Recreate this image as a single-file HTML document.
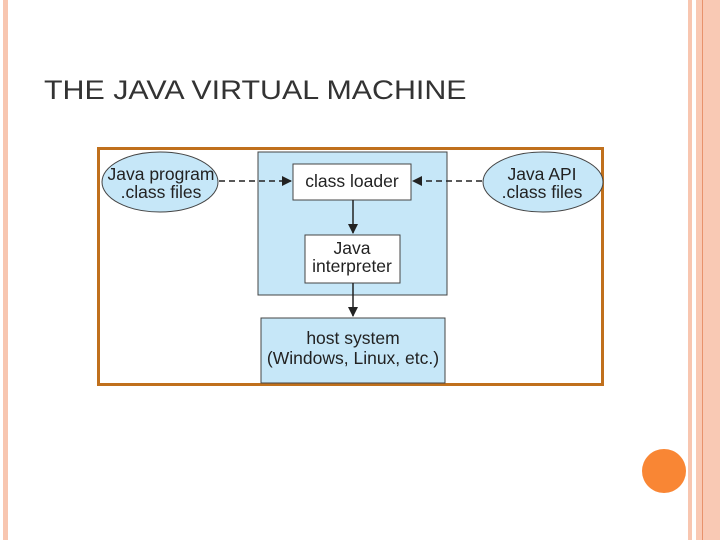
<!DOCTYPE html>
<html><head><style>
body{margin:0;width:720px;height:540px;background:#fff;position:relative;overflow:hidden;font-family:"Liberation Sans",sans-serif}
.s{position:absolute;top:0;height:540px}
</style></head><body>
<div class="s" style="left:3px;width:5px;background:#f8c6b0"></div>
<div class="s" style="left:688px;width:4px;background:#f8c6b0"></div>
<div class="s" style="left:696px;width:24px;background:#f9c9b4"></div>
<div class="s" style="left:702px;width:1px;background:#e8926c"></div>
<div style="position:absolute;left:642px;top:449px;width:44px;height:44px;border-radius:50%;background:#f98634"></div>
<div style="position:absolute;left:44px;top:75px;font-size:27px;color:#333;transform:scaleX(1.125);transform-origin:0 0;white-space:nowrap">THE JAVA VIRTUAL MACHINE</div>
<svg style="position:absolute;left:0;top:0" width="720" height="540" font-family="Liberation Sans, sans-serif" font-size="17.5" fill="#222">
<defs><marker id="a" markerWidth="10" markerHeight="10" refX="9" refY="5" orient="auto" markerUnits="userSpaceOnUse"><path d="M0,0 L10,5 L0,10 z" fill="#222"/></marker></defs>
<rect x="98.5" y="148.5" width="504" height="236" fill="#fff" stroke="#c0701c" stroke-width="3"/>
<rect x="258" y="152" width="189" height="143" fill="#c6e7f8" stroke="#444" stroke-width="1"/>
<rect x="261" y="318" width="184" height="65" fill="#c6e7f8" stroke="#444" stroke-width="1"/>
<rect x="293" y="164" width="118" height="36" fill="#fff" stroke="#444"/>
<rect x="305" y="235" width="95" height="48" fill="#fff" stroke="#444"/>
<ellipse cx="160" cy="182" rx="58" ry="30" fill="#c6e7f8" stroke="#444"/>
<ellipse cx="543" cy="182" rx="60" ry="30" fill="#c6e7f8" stroke="#444"/>
<line x1="219" y1="181" x2="291" y2="181" stroke="#222" stroke-width="1.5" stroke-dasharray="6,4" marker-end="url(#a)"/>
<line x1="482" y1="181" x2="413" y2="181" stroke="#222" stroke-width="1.5" stroke-dasharray="6,4" marker-end="url(#a)"/>
<line x1="353" y1="200" x2="353" y2="233" stroke="#222" stroke-width="1.5" marker-end="url(#a)"/>
<line x1="353" y1="283" x2="353" y2="316" stroke="#222" stroke-width="1.5" marker-end="url(#a)"/>
<text x="161" y="180" text-anchor="middle">Java program</text>
<text x="161" y="198" text-anchor="middle">.class files</text>
<text x="542" y="180" text-anchor="middle">Java API</text>
<text x="542" y="198" text-anchor="middle">.class files</text>
<text x="352" y="187" text-anchor="middle">class loader</text>
<text x="352" y="254" text-anchor="middle">Java</text>
<text x="352" y="272" text-anchor="middle">interpreter</text>
<text x="353" y="344" text-anchor="middle">host system</text>
<text x="353" y="364" text-anchor="middle">(Windows, Linux, etc.)</text>
</svg>
</body></html>
